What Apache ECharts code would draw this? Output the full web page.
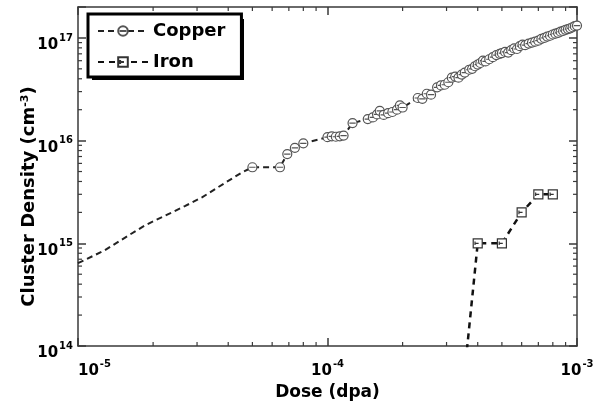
<!DOCTYPE html>
<html>
<head>
<meta charset="utf-8">
<script src="https://cdn.jsdelivr.net/npm/echarts@6/dist/echarts.min.js"></script>
<style>
  html, body { margin: 0; padding: 0; background: #fff; }
  #chart { width: 606px; height: 403px; }
</style>
</head>
<body>
<div id="chart"></div>
<script>
// dose (dpa) / cluster density (cm^-3)
const copperDose = [
  1.0e-5, 1.28e-5, 1.6e-5, 1.86e-5, 2.68e-5, 3.14e-5, 3.9e-5, 4.54e-5,
  5.0e-5, 6.45e-5, 6.9e-5, 7.4e-5, 8.0e-5,
  1.0e-4, 1.04e-4, 1.08e-4, 1.12e-4, 1.16e-4, 1.26e-4,
  1.45e-4, 1.52e-4, 1.58e-4, 1.62e-4, 1.68e-4, 1.75e-4, 1.82e-4, 1.9e-4, 1.95e-4, 2.0e-4,
  2.3e-4, 2.4e-4, 2.5e-4, 2.6e-4, 2.75e-4, 2.85e-4, 2.95e-4, 3.05e-4, 3.15e-4, 3.25e-4,
  3.35e-4, 3.45e-4, 3.55e-4, 3.7e-4, 3.8e-4, 3.9e-4, 4.0e-4, 4.1e-4, 4.2e-4, 4.3e-4,
  4.45e-4, 4.6e-4, 4.75e-4, 4.9e-4, 5.0e-4, 5.15e-4, 5.3e-4, 5.45e-4, 5.6e-4, 5.75e-4,
  5.9e-4, 6.05e-4, 6.2e-4, 6.4e-4, 6.6e-4, 6.8e-4, 7.0e-4, 7.2e-4, 7.4e-4, 7.6e-4,
  7.8e-4, 8.0e-4, 8.2e-4, 8.4e-4, 8.6e-4, 8.8e-4, 9.0e-4, 9.2e-4, 9.4e-4, 9.6e-4,
  9.8e-4, 1.0e-3
];
const copperDensity = [
  6.4e14, 8.55e14, 1.2e15, 1.5e15, 2.3e15, 2.8e15, 3.9e15, 4.9e15,
  5.5e15, 5.5e15, 7.4e15, 8.5e15, 9.4e15,
  1.08e16, 1.1e16, 1.09e16, 1.1e16, 1.12e16, 1.48e16,
  1.62e16, 1.68e16, 1.8e16, 1.95e16, 1.78e16, 1.85e16, 1.9e16, 2.0e16, 2.2e16, 2.1e16,
  2.6e16, 2.55e16, 2.86e16, 2.8e16, 3.3e16, 3.45e16, 3.5e16, 3.7e16, 4.1e16, 4.2e16,
  4.1e16, 4.4e16, 4.6e16, 4.9e16, 5.0e16, 5.3e16, 5.5e16, 5.7e16, 6.0e16, 5.9e16,
  6.2e16, 6.5e16, 6.8e16, 7.0e16, 7.1e16, 7.3e16, 7.2e16, 7.6e16, 7.9e16, 7.8e16,
  8.3e16, 8.6e16, 8.5e16, 8.8e16, 9.0e16, 9.2e16, 9.4e16, 9.8e16, 1.0e17, 1.03e17,
  1.05e17, 1.08e17, 1.1e17, 1.12e17, 1.15e17, 1.17e17, 1.2e17, 1.22e17, 1.24e17, 1.27e17,
  1.3e17, 1.32e17
];
const copperMarkerFrom = 5.0e-5;

const ironDose = [3.3e-4, 4.0e-4, 5.0e-4, 6.0e-4, 7.0e-4, 8.0e-4];
const ironDensity = [1e13, 1e15, 1e15, 2e15, 3e15, 3e15];

const xMin = 1e-5, xMax = 1e-3;
const yMin = 1e14, yMax = 2e17;
const mantissas = [2, 3, 4, 5, 6, 7, 8, 9];
const xDecades = [1e-5, 1e-4];
const yDecades = [1e14, 1e15, 1e16];

const AXIS_COLOR = '#3a3a3a';
const FONT = 'DejaVu Sans';

const copperSymbol = 'path://M0,10A10,10,0,1,1,20,10A10,10,0,1,1,0,10ZM3,10L17,10';
const ironSymbol = 'path://M0,0L20,0L20,20L0,20ZM4,10L12,10M4,6L4,14';

let xMinor = [];
xDecades.forEach(d => mantissas.forEach(m => xMinor.push(d * m)));
let yMinor = [];
yDecades.forEach(d => mantissas.forEach(m => yMinor.push(d * m)));

function powLabel(v) {
  const e = Math.log10(v);
  const r = Math.round(e);
  if (Math.abs(e - r) > 1e-6) return '';
  return '{b|10}{s|' + r + '}';
}

const labelRich = {
  b: { fontFamily: FONT, fontWeight: 'bold', fontSize: 15, color: '#000', lineHeight: 20, verticalAlign: 'bottom' },
  s: { fontFamily: FONT, fontWeight: 'bold', fontSize: 10, color: '#000', lineHeight: 20, verticalAlign: 'top', padding: [0, 0, 0, 1] }
};

// log minor ticks, drawn on all four sides of the frame
function minorTickSeries(values, isX) {
  return {
    type: 'custom',
    silent: true,
    xAxisIndex: 0,
    yAxisIndex: 0,
    data: values.map(v => isX ? [v, yMin] : [xMin, v]),
    renderItem: function (params, api) {
      const v = api.value(isX ? 0 : 1);
      const len = 4;
      const st = { stroke: AXIS_COLOR, lineWidth: 1.2 };
      let a, b;
      if (isX) {
        a = api.coord([v, yMin]);
        b = api.coord([v, yMax]);
        return {
          type: 'group',
          children: [
            { type: 'line', shape: { x1: a[0], y1: a[1], x2: a[0], y2: a[1] - len }, style: st },
            { type: 'line', shape: { x1: b[0], y1: b[1], x2: b[0], y2: b[1] + len }, style: st }
          ]
        };
      }
      a = api.coord([xMin, v]);
      b = api.coord([xMax, v]);
      return {
        type: 'group',
        children: [
          { type: 'line', shape: { x1: a[0], y1: a[1], x2: a[0] + len, y2: a[1] }, style: st },
          { type: 'line', shape: { x1: b[0], y1: b[1], x2: b[0] - len, y2: b[1] }, style: st }
        ]
      };
    },
    z: 5
  };
}

function axisLine() { return { show: true, lineStyle: { color: AXIS_COLOR, width: 1.5 } }; }
function majorTick() { return { show: true, inside: true, length: 8, lineStyle: { color: AXIS_COLOR, width: 1.5 } }; }

const chart = echarts.init(document.getElementById('chart'));
chart.setOption({
  animation: false,
  backgroundColor: '#fff',
  grid: { left: 78, right: 29, top: 7, bottom: 57, containLabel: false, outerBoundsMode: 'none' },
  // legend drop shadow
  graphic: [{ type: 'rect', z: 0, shape: { x: 92, y: 19, width: 152, height: 61 }, style: { fill: '#000' } }],
  legend: {
    orient: 'vertical',
    left: 88,
    top: 14,
    z: 10,
    data: ['Copper', 'Iron'],
    itemWidth: 50,
    itemHeight: 12,
    itemGap: 13,
    padding: [8, 16, 6, 9],
    backgroundColor: '#fff',
    borderColor: '#000',
    borderWidth: 3,
    borderRadius: 0,
    textStyle: { fontFamily: FONT, fontWeight: 'bold', fontSize: 18, color: '#000' }
  },
  xAxis: [{
    type: 'log',
    logBase: 10,
    min: xMin,
    max: xMax,
    name: 'Dose (dpa)',
    nameLocation: 'middle',
    nameGap: 34,
    nameTextStyle: { fontFamily: FONT, fontWeight: 'bold', fontSize: 17, color: '#000' },
    axisLine: axisLine(),
    axisTick: majorTick(),
    splitLine: { show: false },
    axisLabel: {
      formatter: powLabel,
      rich: labelRich,
      margin: 13,
      alignMinLabel: 'left',
      alignMaxLabel: 'right'
    }
  }, {
    type: 'log',
    logBase: 10,
    min: xMin,
    max: xMax,
    position: 'top',
    axisLine: axisLine(),
    axisTick: majorTick(),
    splitLine: { show: false },
    axisLabel: { show: false }
  }],
  yAxis: [{
    type: 'log',
    logBase: 10,
    min: yMin,
    max: yMax,
    name: 'Cluster Density (cm{s|-3})',
    nameLocation: 'middle',
    nameGap: 40,
    nameMoveOverlap: false,
    nameRotate: 90,
    nameTextStyle: {
      fontFamily: FONT, fontWeight: 'bold', fontSize: 18, color: '#000',
      padding: [0, 40, 0, 0],
      rich: { s: { fontFamily: FONT, fontWeight: 'bold', fontSize: 11, color: '#000', verticalAlign: 'top' } }
    },
    axisLine: axisLine(),
    axisTick: majorTick(),
    splitLine: { show: false },
    axisLabel: {
      formatter: powLabel,
      rich: labelRich,
      margin: 5,
      padding: [10, 0, 0, 0]
    }
  }, {
    type: 'log',
    logBase: 10,
    min: yMin,
    max: yMax,
    position: 'right',
    axisLine: axisLine(),
    axisTick: majorTick(),
    splitLine: { show: false },
    axisLabel: { show: false }
  }],
  series: [
    minorTickSeries(xMinor, true),
    minorTickSeries(yMinor, false),
    {
      name: 'Copper',
      type: 'line',
      data: copperDose.map((d, i) => d < copperMarkerFrom
        ? { value: [d, copperDensity[i]], symbol: 'none' }
        : [d, copperDensity[i]]),
      symbol: copperSymbol,
      symbolSize: 9,
      showAllSymbol: true,
      itemStyle: { color: '#fff', borderColor: '#555', borderWidth: 1.2 },
      lineStyle: { color: '#222', width: 2, type: [6, 4] },
      z: 3
    },
    {
      name: 'Iron',
      type: 'line',
      data: ironDose.map((d, i) => ironDensity[i] < yMin
        ? { value: [d, ironDensity[i]], symbol: 'none' }
        : [d, ironDensity[i]]),
      symbol: ironSymbol,
      symbolSize: 9,
      showAllSymbol: true,
      itemStyle: { color: '#fff', borderColor: '#333', borderWidth: 1.2 },
      lineStyle: { color: '#111', width: 2.5, type: [6, 5] },
      z: 3
    }
  ]
});
</script>
</body>
</html>
